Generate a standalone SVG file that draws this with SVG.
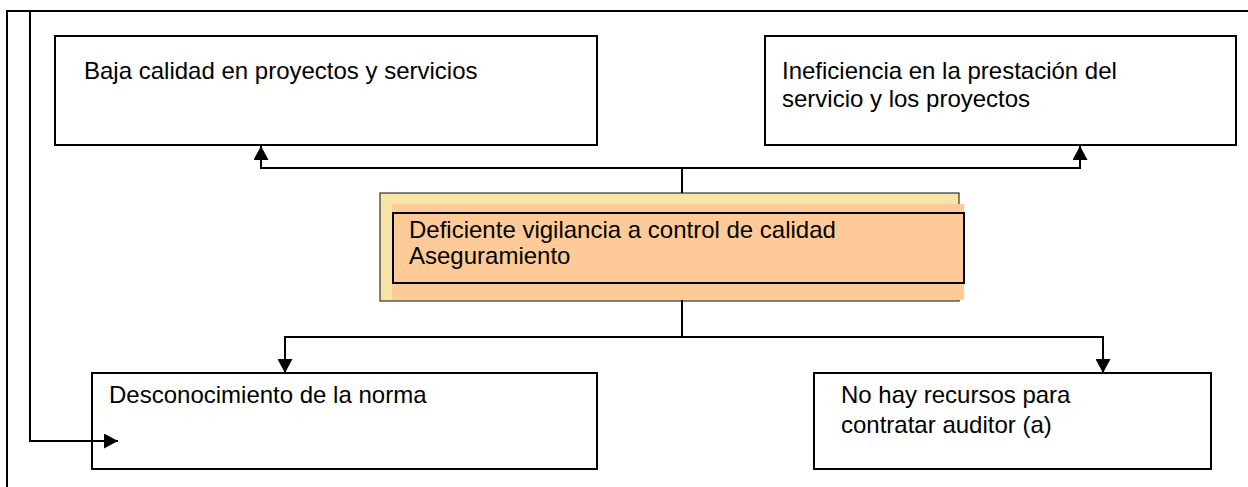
<svg xmlns="http://www.w3.org/2000/svg" width="1248" height="487" viewBox="0 0 1248 487">
  <style>
    .box { fill: #ffffff; stroke: #000000; stroke-width: 2; }
    .line { fill: none; stroke: #000000; stroke-width: 2; }
    .lbl { font-family: "Liberation Sans", Arial, sans-serif; font-size: 24px; fill: #000000; }
  </style>
  <defs>
    <marker id="arrow" viewBox="0 0 14 15" refX="14" refY="7.5" markerWidth="14" markerHeight="15" markerUnits="userSpaceOnUse" orient="auto">
      <path d="M0,0 L14,7.5 L0,15 Z" fill="#000000"/>
    </marker>
  </defs>
  <rect x="0" y="0" width="1248" height="487" fill="#ffffff"/>
  <g id="frame">
    <path class="line" d="M7,487 L7,11 L1248,11"/>
  </g>
  <g id="node-baja">
    <rect class="box" x="55" y="36" width="542" height="109"/>
    <text class="lbl" x="84" y="79">Baja calidad en proyectos y servicios</text>
  </g>
  <g id="node-ineficiencia">
    <rect class="box" x="765" y="36" width="471" height="109"/>
    <text class="lbl" x="782" y="79">Ineficiencia en la prestación del</text>
    <text class="lbl" x="782" y="106.5">servicio y los proyectos</text>
  </g>
  <g id="node-deficiente">
    <rect x="380" y="193" width="579" height="108" fill="#F6E4A8" stroke="#333333" stroke-width="1.2"/>
    <rect x="392" y="204" width="572" height="96" fill="#FECB98"/>
    <rect x="393" y="213" width="571" height="70" fill="#FECB98" stroke="#000000" stroke-width="2"/>
    <text class="lbl" x="409" y="238">Deficiente vigilancia a control de calidad</text>
    <text class="lbl" x="409" y="264">Aseguramiento</text>
  </g>
  <g id="node-desconocimiento">
    <rect class="box" x="92" y="373" width="505" height="96"/>
    <text class="lbl" x="109" y="403">Desconocimiento de la norma</text>
  </g>
  <g id="node-recursos">
    <rect class="box" x="814" y="373" width="397" height="96"/>
    <text class="lbl" x="841" y="403">No hay recursos para</text>
    <text class="lbl" x="841" y="432.5">contratar auditor (a)</text>
  </g>
  <g id="connectors">
    <path class="line" d="M682,193 L682,168"/>
    <path class="line" d="M682,168 L261,168 L261,146" marker-end="url(#arrow)"/>
    <path class="line" d="M682,168 L1080,168 L1080,146" marker-end="url(#arrow)"/>
    <path class="line" d="M682,300 L682,337"/>
    <path class="line" d="M682,337 L285,337 L285,373" marker-end="url(#arrow)"/>
    <path class="line" d="M682,337 L1103,337 L1103,373" marker-end="url(#arrow)"/>
    <path class="line" d="M30,11 L30,441 L118,441" marker-end="url(#arrow)"/>
  </g>
</svg>
